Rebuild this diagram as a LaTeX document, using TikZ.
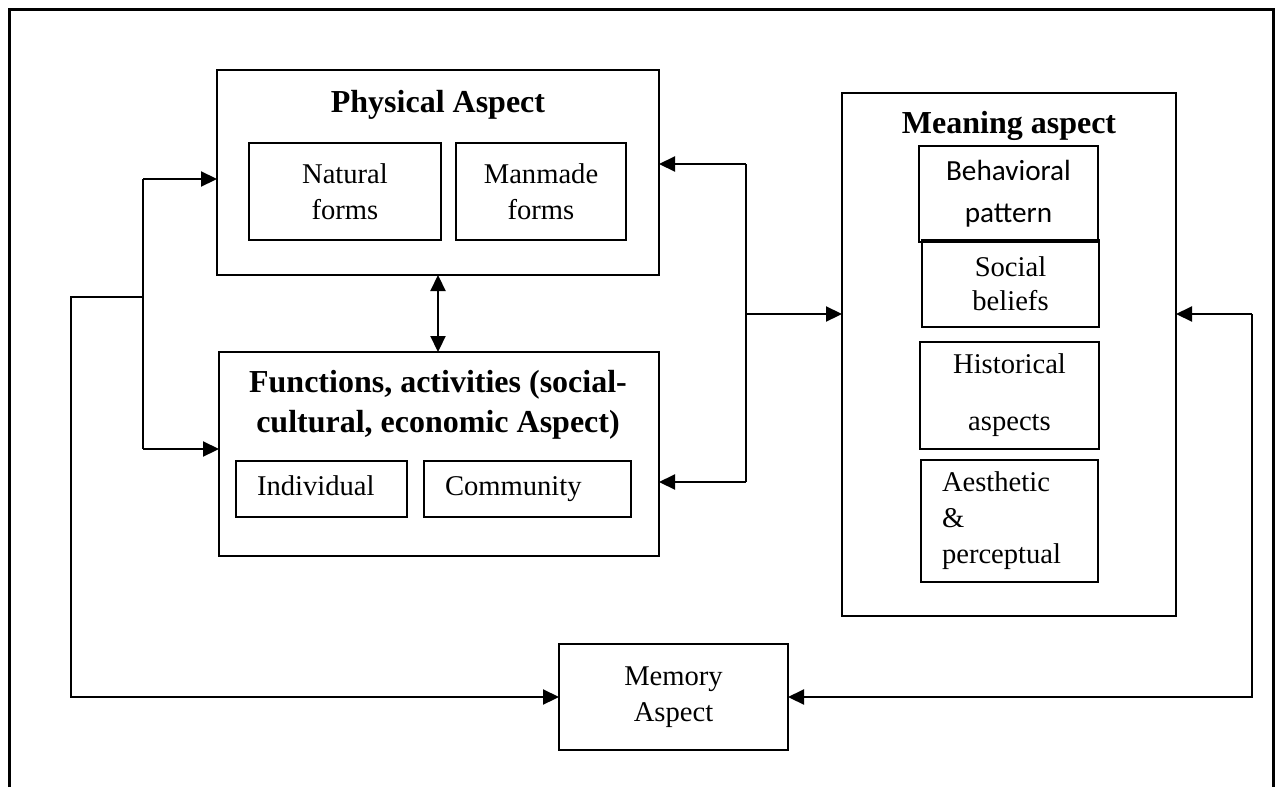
\documentclass[tikz,border=0pt]{standalone}
\usepackage{fontspec}
\setmainfont{Liberation Serif}
\newfontfamily\calibrifont{Carlito}
\usetikzlibrary{arrows.meta}

\tikzset{
  box/.style={draw, line width=1pt, inner sep=0pt, outer sep=0pt,
    align=center, font=\fontsize{14.3}{18}\selectfont},
  leftbox/.style={box, align=left, inner xsep=10.5pt},
  onerow/.style={text height=10pt, text depth=3.5pt},
  title/.style={inner sep=0pt, font=\bfseries\fontsize{16}{20}\selectfont},
  link/.style={line width=1.1pt},
  arr/.style={link, -{Triangle[length=8pt, width=7.5pt]}},
}

\begin{document}
\begin{tikzpicture}[x=0.5pt, y=-0.5pt]
    \useasboundingbox (0, 0) rectangle (1279, 787);

    % frame
    \draw [line width=1.5pt] (9, 787) -- (9, 9) -- (1273, 9) -- (1273, 787);

    % physical aspect
    \node[box, minimum width=221pt, minimum height=102.5pt](phys) at (438, 172.5){};
    \node[title, anchor=base](physT) at (438, 112){Physical Aspect};
    \node[box, minimum width=96pt, minimum height=48.5pt](natural) at (345, 191.5){Natural\\forms};
    \node[box, minimum width=85pt, minimum height=48.5pt](manmade) at (541, 191.5){Manmade\\forms};

    % functions, activities
    \node[box, minimum width=220pt, minimum height=102pt](func) at (439, 454){};
    \node[title, align=center](funcT) at (438, 405)
      {Functions, activities (social-\\cultural, economic Aspect)};
    \node[leftbox, onerow, text width=64.5pt, minimum height=28pt](indiv) at (321.5, 489){Individual};
    \node[leftbox, onerow, text width=82.5pt, minimum height=28pt](commu) at (527.5, 489){Community};

    % meaning aspect
    \node[box, minimum width=167pt, minimum height=261.5pt](meaning) at (1009, 354.5){};
    \node[title, anchor=base](meaningT) at (1009, 133){Meaning aspect};
    \node[box, minimum width=89.5pt, minimum height=48pt,
      font=\calibrifont\fontsize{14.6}{21}\selectfont](behav) at (1008.5, 194){Behavioral\\pattern};
    \node[box, minimum width=88.5pt, minimum height=43.5pt,
      font=\fontsize{14.3}{17}\selectfont](social) at (1010.5, 283.5){Social\\beliefs};
    \node[box, minimum width=89.5pt, minimum height=53.5pt](histor) at (1009.5, 395.5){Historical\\[10.5pt]aspects};
    \node[leftbox, text width=67.5pt, minimum height=61pt](aesth) at (1009.5, 521){Aesthetic\\\&\\perceptual};

    % memory aspect
    \node[box, minimum width=114.5pt, minimum height=53pt](memory) at (673.5, 697){Memory\\Aspect};

    % physical <-> functions
    \draw [link, {Triangle[length=8pt, width=7.5pt]}-{Triangle[length=8pt, width=7.5pt]}]
      (phys.south) -- (phys.south |- func.north);

    % left branch
    \coordinate (lt) at (143, 179);
    \coordinate (lb) at (143, 449);
    \coordinate (lj) at (143, 297);
    \coordinate (ll) at (71, 297);
    \draw [link] (lt) -- (lb);
    \draw [arr] (lt) -- (lt -| phys.west);
    \draw [arr] (lb) -- (lb -| func.west);
    \draw [arr] (lj) -- (ll) |- (memory.west);

    % middle branch
    \coordinate (mt) at (746, 164);
    \coordinate (mb) at (746, 482);
    \coordinate (mj) at (746, 314);
    \draw [link] (mt) -- (mb);
    \draw [arr] (mt) -- (mt -| phys.east);
    \draw [arr] (mb) -- (mb -| func.east);
    \draw [arr] (mj) -- (mj -| meaning.west);

    % right branch
    \coordinate (rt) at (1252, 314);
    \draw [arr] (rt) -- (rt -| meaning.east);
    \draw [arr] (rt) |- (memory.east);
\end{tikzpicture}
\end{document}
